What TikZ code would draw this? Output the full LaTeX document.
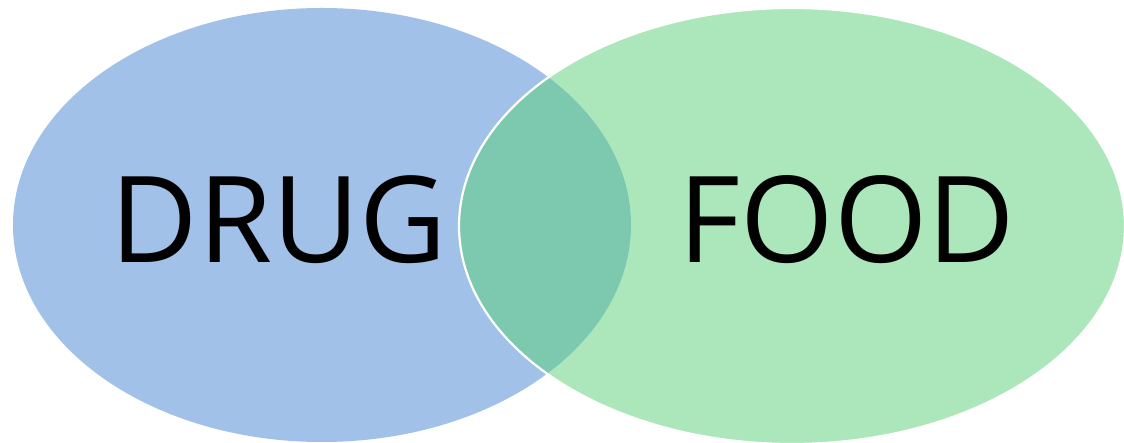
\documentclass[tikz,border=0pt]{standalone}
\usepackage{fontspec}
\setmainfont{Open Sans}
\definecolor{drugblue}{RGB}{162,193,232}
\definecolor{foodgreen}{RGB}{89,209,121}
\tikzset{
  setlabel/.style={font=\fontsize{120}{120}\selectfont, text=black, inner sep=0pt, anchor=base},
}
\begin{document}
\begin{tikzpicture}[x=1pt,y=1pt]
\useasboundingbox (0,0) rectangle (1124,443);
\fill[white] (0,0) rectangle (1124,443);
\fill[drugblue] (322,218) ellipse [x radius=309, y radius=217];
\draw[white, line width=2.2pt, fill=foodgreen, fill opacity=0.5] (792,217) ellipse [x radius=333, y radius=218];
\node[setlabel] (drug) at (279,180) {DRUG};
\node[setlabel] (food) at (847,180) {FOOD};
\end{tikzpicture}
\end{document}
